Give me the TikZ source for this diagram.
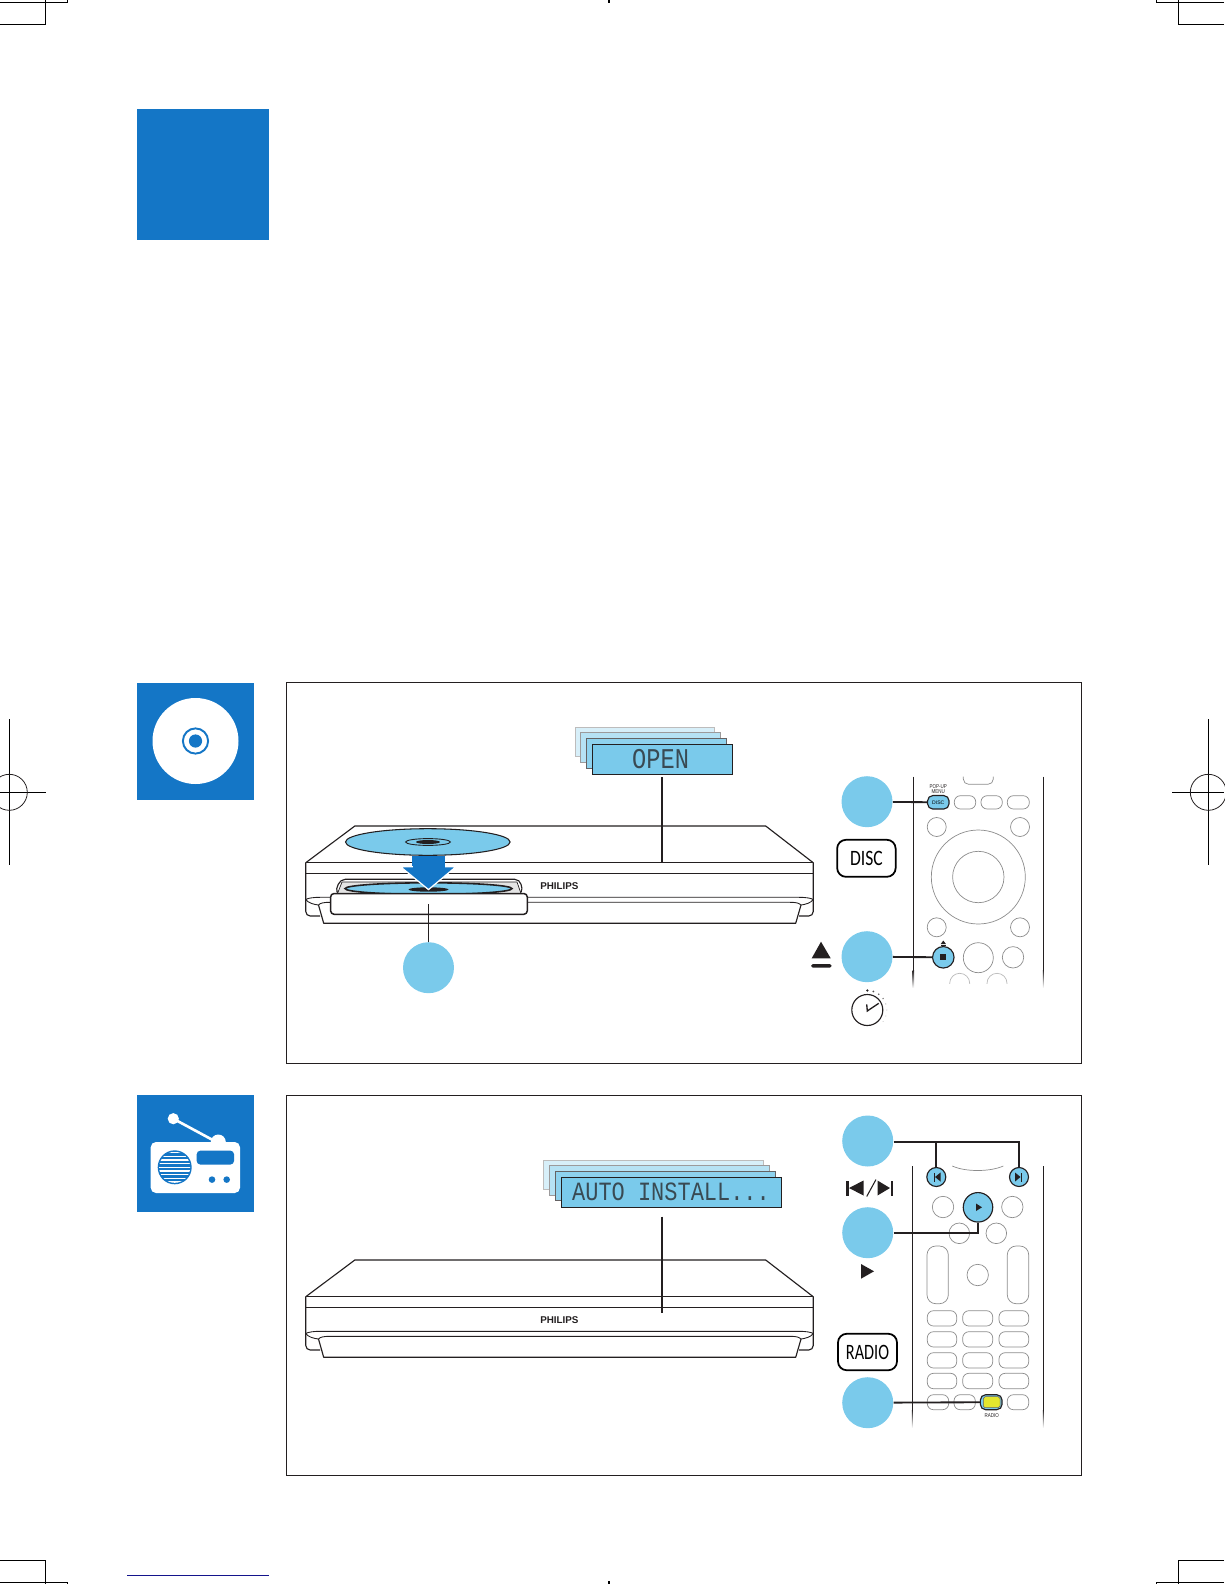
\documentclass[tikz,border=0pt]{standalone}
\usepackage{fontspec}
\setmainfont{Liberation Sans}
\newfontfamily\lcdfont{Liberation Mono}
\newfontfamily\keyfont{Carlito}
\usetikzlibrary{positioning,calc}
\definecolor{PhBlue}{HTML}{1476C6}
\definecolor{PhSky}{HTML}{7ACAEB}
\definecolor{PhInk}{HTML}{231F20}
\definecolor{PhGrey}{HTML}{8C8C8C}
\definecolor{PhYellow}{HTML}{E3E62E}
\definecolor{PhNavy}{HTML}{14148C}

\tikzset{
  crop/.style={line width=0.6pt,color=black},
  frame/.style={draw=PhInk,line width=0.5pt},
  callout/.style={circle,fill=PhSky,minimum size=1.02cm,inner sep=0pt},
  leader/.style={line width=1.05pt,color=PhInk},
  lcd/.style={draw=#1,line width=0.5pt},
  lcdtext/.style={font=\lcdfont,color=PhInk!75!PhSky,inner sep=0pt},
  keybox/.style={draw=black,line width=1pt,rounded corners=5pt,fill=white,
    minimum width=1.17cm,minimum height=0.74cm,inner sep=0pt,font=\keyfont\fontsize{12.5}{13}\selectfont},
  rail/.style={line width=0.85pt,color=PhInk},
  railthin/.style={line width=0.6pt,color=PhInk},
  btn/.style={draw=PhGrey,line width=0.4pt,rounded corners=3.5pt},
  rbtn/.style={draw=PhGrey,line width=0.4pt},
  hot/.style={draw=PhInk,line width=0.65pt,fill=PhSky,inner sep=0pt},
  body/.style={draw=PhInk,line width=0.65pt,fill=white,line join=round},
  tiny/.style={font=\fontsize{3.2}{3.5}\selectfont,color=PhInk,inner sep=0pt,align=center,xscale=0.8},
  logo/.style={font=\bfseries\fontsize{5.6}{6}\selectfont,color=PhInk,inner sep=0pt},
  player/.pic={
    % top face and body
    \draw[body] (305.8,862.7) -- (354.8,826) -- (765.7,826) -- (813.2,862.7) -- cycle;
    \fill[white] (305.8,862.7) rectangle (813.2,916);
    \draw[body,fill=none,rounded corners=2.5pt] (320,916) -- (305.8,916) -- (305.8,862.7);
    \draw[body,fill=none,rounded corners=2.5pt] (799,916) -- (813.2,916) -- (813.2,862.7);
    \draw[body,line width=0.85pt] (305.8,862.7) -- (813.2,862.7);
    \draw[body] (305.8,873.3) -- (813.2,873.3);
    % foot
    \draw[body] (318.5,905) -- (323.7,923.3) -- (795.7,923.3) -- (801,905);
    \draw[draw=PhInk,line width=0.5pt] (305.8,899.5) .. controls (308,898) and (314,897.3) .. (320,897.3) -- (799,897.3)
      .. controls (805,897.3) and (811,898) .. (813.2,899.5);
    \draw[draw=PhInk,line width=0.5pt] (318.5,905) .. controls (320,903) and (324,902.3) .. (330,902.3) -- (790,902.3)
      .. controls (796,902.3) and (799,903) .. (801,905);
    \draw[draw=PhInk,line width=0.5pt] (305.8,899.5) .. controls (308,903) and (314,904.5) .. (318.5,905);
    \draw[draw=PhInk,line width=0.5pt] (813.2,899.5) .. controls (811,903) and (805,904.5) .. (801,905);
  }
}

\begin{document}
\begin{tikzpicture}[x=0.02cm,y=-0.02cm]
  \useasboundingbox (0,0) rectangle (1224,1584);

  % Crop marks
  \draw[crop] (0,24.3) -- (45.3,24.3) -- (45.3,0);
  \draw[crop] (0,2.3) -- (67.7,2.3) -- (67.7,0);
  \draw[crop] (1224,24.3) -- (1178.7,24.3) -- (1178.7,0);
  \draw[crop] (1224,2.3) -- (1156.3,2.3) -- (1156.3,0);
  \draw[crop] (0,1560.3) -- (45.3,1560.3) -- (45.3,1584);
  \draw[crop] (0,1582.3) -- (67.7,1582.3) -- (67.7,1584);
  \draw[crop] (1224,1560.3) -- (1178.7,1560.3) -- (1178.7,1584);
  \draw[crop] (1224,1582.3) -- (1156.3,1582.3) -- (1156.3,1584);
  \draw[crop] (609,0) -- (609,3);
  \draw[crop] (609,1581) -- (609,1584);
  \draw[color=PhNavy,line width=0.75pt] (127,1575.3) -- (268.7,1575.3);

  % Registration marks
  \draw[crop] (9.3,719) -- (9.3,865);
  \draw[crop] (0,792.3) -- (46,792.3);
  \draw[line width=0.45pt,color=PhInk] (9.3,792.3) circle (18);
  \draw[crop] (1208.3,719) -- (1208.3,865);
  \draw[crop] (1172,792.3) -- (1224,792.3);
  \draw[line width=0.45pt,color=PhInk] (1208.3,792.3) circle (18);

  % Chapter square
  \fill[PhBlue] (137.3,109) rectangle (268.6,240.4);

  % Disc icon
  \fill[PhBlue] (137,683) rectangle (254,800);
  \fill[white] (195.5,741) circle (43);
  \draw[PhBlue,line width=1.1pt] (195.5,741) circle (12.6);
  \fill[PhBlue] (195.5,741) circle (6.6);

  % Radio icon
  \fill[PhBlue] (137,1095) rectangle (254,1212);
  \draw[white,line width=1.5pt] (173.3,1118.7) -- (218.3,1143);
  \fill[white] (173.3,1118.7) circle (5.6);
  \fill[white] (218.3,1142) circle (7.5);
  \fill[white,rounded corners=3pt] (150.7,1142) rectangle (240,1193);
  \fill[PhBlue] (174.7,1167.3) circle (17);
  \begin{scope}
    \clip (174.7,1167.3) circle (15.5);
    \foreach \s in {1152.5,1156.2,...,1183}
      \draw[white,line width=0.8pt] (155,\s) -- (195,\s);
  \end{scope}
  \fill[PhBlue,rounded corners=2pt] (196.7,1150.7) rectangle (234,1164.5);
  \fill[PhBlue] (212,1179.6) circle (3.3);
  \fill[PhBlue] (226.7,1179.6) circle (3.3);

  % Frames
  \draw[frame] (286,682) rectangle (1081,1063);
  \draw[frame] (286,1095) rectangle (1081,1475);

  % Player with disc
  \pic at (0,0) {player};
  \fill[PhSky,draw=PhInk,line width=0.6pt] (427.8,842) ellipse (82.3 and 13.3);
  \draw[PhInk,line width=0.5pt] (428,842) ellipse (22.4 and 3.4);
  \fill[PhInk] (428,842) ellipse (12 and 2);
  \draw[body,rounded corners=3pt] (335,893.5) -- (340,879.3) -- (520,879.3) -- (523,893.5) -- cycle;
  \fill[PhInk!12,draw=PhInk,line width=0.4pt] (337.5,893.5) -- (342,882) -- (517,882) -- (521,893.5) -- cycle;
  \begin{scope}
    \clip (320,870) rectangle (540,893.5);
    \fill[PhSky,draw=PhInk,line width=0.9pt] (428.5,888.6) ellipse (83.4 and 5.8);
    \fill[PhInk] (428.5,889.5) ellipse (20 and 2.2);
  \end{scope}
  \fill[PhBlue] (412.3,855.7) rectangle (445,866.7);
  \fill[PhBlue,draw=white,line width=0.7pt] (400.5,866.7) -- (412.3,866.7) -- (445,866.7) -- (456,866.7) -- (428.5,889.6) -- cycle;
  \fill[PhBlue] (412.8,855.7) rectangle (444.5,867.5);
  \draw[body,line width=0.85pt,rounded corners=2pt] (330.6,893.5) rectangle (527.3,914.3);
  \node[logo] (logoa) at (559.4,886.3) {PHILIPS};

  % Display with OPEN
  \draw[lcd=PhInk!30,fill=PhSky!30] (575.2,727.3) rectangle (714.7,756.7);
  \draw[lcd=PhInk!45,fill=PhSky!55] (580.4,732.3) rectangle (720.6,762.7);
  \draw[lcd=PhInk!70,fill=PhSky!85] (586.6,738.7) rectangle (726.8,768.3);
  \node[lcd=PhInk,fill=PhSky,minimum width=2.8cm,minimum height=0.61cm,inner sep=0pt] (lcda) at (662.5,759.5) {};
  \node[lcdtext,font=\lcdfont\fontsize{15.5}{16}\selectfont,xscale=0.87,yscale=1.05] (opentext) at (660.6,759.3) {OPEN};
  \coordinate (lcdaout) at (661.7,777);
  \coordinate (topa) at (661.7,862.7);
  \draw[leader] (lcdaout) -- (topa);

  % Callout at tray
  \node[callout] (stepa) at (428.5,967.7) {};
  \coordinate (trayin) at (428.5,904);
  \draw[line width=0.5pt,color=PhInk] (trayin) -- (stepa);

  % Upper remote
  \draw[rail] (913.3,776.7) -- (913.3,970);
  \shade[top color=PhInk,bottom color=white] (912.6,970) rectangle (914,988);
  \draw[railthin] (1043.3,776.7) -- (1043.3,970);
  \shade[top color=PhInk,bottom color=white] (1042.8,970) rectangle (1043.8,988);
  \draw[rbtn,rounded corners=3pt] (963.3,776.7) -- (963.3,784.3) -- (993.3,784.3) -- (993.3,776.7);
  \node[tiny] (popup) at (938.3,789) {POP-UP\\[-0.3pt]MENU};
  \node[hot,rounded corners=3pt,minimum width=0.43cm,minimum height=0.27cm,
    font=\fontsize{2.9}{3}\selectfont] (discbtn) at (938.3,802.3) {DISC};
  \foreach \xa/\xb in {954.3/975.7,981/1002.3,1007.3/1029.3}
    \draw[btn] (\xa,795.7) rectangle (\xb,809);
  \foreach \cx/\cy in {936.7/827,1020/827,936.7/927.3,1020/927.3}
    \draw[rbtn] (\cx,\cy) circle (9.5);
  \draw[rbtn] (978.3,877) circle (47);
  \draw[rbtn] (978.3,877) circle (25.7);
  \draw[rbtn] (978.3,957.7) circle (15);
  \draw[rbtn] (1013,957.3) circle (10.7);
  \begin{scope}
    \clip (940,970) rectangle (1020,983);
    \draw[rbtn,color=PhGrey!60] (959.7,983.3) circle (10);
    \draw[rbtn,color=PhGrey!60] (997,983.3) circle (10);
  \end{scope}
  \node[hot,circle,minimum size=0.43cm] (stopbtn) at (943.3,957.3) {};
  \fill[PhInk] (940.3,954.3) rectangle (946.3,960.3);
  \fill[PhInk] (940.7,944) -- (943.3,940.5) -- (945.9,944) -- cycle;
  \fill[PhInk] (940.7,945) rectangle (945.9,945.9);

  \node[callout] (stepb) at (867,801.7) {};
  \node[callout] (stepc) at (867,956.7) {};
  \draw[leader] (stepb) -- (discbtn);
  \draw[leader] (stepc) -- (stopbtn);
  \node[keybox] (disckey) at (866.4,858.3) {\scalebox{0.8}[1]{DISC}};

  % Eject and timer
  \fill[PhInk] (811.7,958.3) -- (821,941.7) -- (830.7,958.3) -- cycle;
  \fill[PhInk,rounded corners=1pt] (811,964) rectangle (831.7,967.7);
  \draw[line width=0.65pt,color=PhInk] (867.3,1010) circle (15.5);
  \draw[line width=0.75pt,color=PhInk] (866.7,1004.3) -- (867.3,1011) -- (878.7,1003.3);
  \foreach \ang/\sz/\tone in {90/1.3/100,72/1/80,54/0.9/70,36/0.8/60,18/0.6/50,0/0.5/40,-18/0.5/35,-36/0.5/30}
    \fill[PhInk!\tone] ($(867.3,1010)+(-\ang:19.5)$) circle (\sz);

  % Lower player
  \pic at (0,434) {player};
  \node[logo] (logob) at (559.4,1320.3) {PHILIPS};

  % Display with AUTO INSTALL
  \draw[lcd=PhInk!30,fill=PhSky!30] (543.5,1160.7) rectangle (763.6,1189.3);
  \draw[lcd=PhInk!45,fill=PhSky!55] (549.4,1165.3) rectangle (769,1195);
  \draw[lcd=PhInk!70,fill=PhSky!85] (555.6,1171.3) rectangle (775.4,1200.7);
  \node[lcd=PhInk,fill=PhSky,minimum width=4.4cm,minimum height=0.6cm,inner sep=0pt] (lcdb) at (671,1192.3) {};
  \node[lcdtext,font=\lcdfont\fontsize{12.5}{13}\selectfont,yscale=1.2] (autotext) at (671,1192) {AUTO INSTALL...};
  \coordinate (lcdbout) at (661.7,1216.7);
  \coordinate (frontb) at (661.7,1313.3);
  \draw[leader] (lcdbout) -- (frontb);

  % Lower remote
  \draw[railthin] (912.3,1166) -- (912.3,1410);
  \shade[top color=PhInk,bottom color=white] (911.8,1410) rectangle (912.8,1428);
  \draw[railthin] (1043.3,1166) -- (1043.3,1410);
  \shade[top color=PhInk,bottom color=white] (1042.8,1410) rectangle (1043.8,1428);
  \draw[rbtn] (952.3,1166) .. controls (965,1172) and (990,1172) .. (1003.3,1166);
  \foreach \cx/\cy/\r in {943/1207/10.7,1012.3/1207/10.7,959.3/1233.3/10.3,996.3/1233.3/10.3,977.7/1275/10.7}
    \draw[rbtn] (\cx,\cy) circle (\r);
  \draw[btn,rounded corners=5pt] (927,1246) rectangle (948.3,1303.7);
  \draw[btn,rounded corners=5pt] (1007.3,1246) rectangle (1028.7,1303.7);
  \foreach \ya/\yb in {1310.7/1326,1331.7/1347,1352.7/1368,1373.3/1388.7}
    \foreach \xa/\xb in {927.3/956.7,962.7/992.7,999/1028.7}
      \draw[btn] (\xa,\ya) rectangle (\xb,\yb);
  \foreach \xa/\xb in {927.3/948.7,954/975.3,1007.3/1028.7}
    \draw[btn] (\xa,1394.7) rectangle (\xb,1409.7);
  \node[hot,circle,minimum size=0.38cm] (prevbtn) at (936.3,1177) {};
  \node[hot,circle,minimum size=0.38cm] (nextbtn) at (1019,1177) {};
  \node[hot,circle,minimum size=0.59cm] (playbtn) at (978,1207.3) {};
  \fill[PhInk] (976,1203.5) -- (982,1207.3) -- (976,1211) -- cycle;
  \fill[PhInk] (933.5,1172.5) rectangle (934.7,1181.5);
  \fill[PhInk] (935,1177) -- (940.5,1172.5) -- (940.5,1181.5) -- cycle;
  \fill[PhInk] (1015,1172.5) -- (1020.5,1177) -- (1015,1181.5) -- cycle;
  \fill[PhInk] (1021,1172.5) rectangle (1022.2,1181.5);
  \node[hot,rounded corners=3pt,minimum width=0.434cm,minimum height=0.3cm] (radiobtn) at (991.2,1402.2) {};
  \fill[PhYellow,draw=PhInk!70,line width=0.3pt,rounded corners=1pt] (983.3,1396.7) rectangle (1000,1407.7);
  \node[tiny] (radiolabel) at (991.7,1415.7) {RADIO};

  \node[callout] (stepd) at (867.7,1141) {};
  \node[callout] (stepe) at (867.7,1232.7) {};
  \node[callout] (stepf) at (867.7,1402.7) {};
  \draw[leader] (stepd.east |- 0,1142) -- (1019,1142) -- (nextbtn);
  \draw[leader] (prevbtn |- 0,1142) -- (prevbtn);
  \draw[leader] (stepe) -- (978,1232.7) -- (playbtn);
  \draw[leader] (stepf) -- (radiobtn);
  \node[keybox,minimum width=1.18cm,minimum height=0.73cm] (radiokey) at (867.5,1352) {\scalebox{0.74}[1]{RADIO}};

  % Skip and play symbols
  \fill[PhInk] (846,1180.5) rectangle (849,1195.5);
  \fill[PhInk] (849,1188) -- (863.5,1180.5) -- (863.5,1195.5) -- cycle;
  \draw[line width=0.6pt,color=PhInk] (866.7,1196.5) -- (876,1179.5);
  \fill[PhInk] (877.5,1180.5) -- (890,1188) -- (877.5,1195.5) -- cycle;
  \fill[PhInk] (890.5,1180.5) rectangle (893.3,1195.5);
  \fill[PhInk] (861,1264) -- (874,1271.3) -- (861,1278.7) -- cycle;
\end{tikzpicture}
\end{document}
